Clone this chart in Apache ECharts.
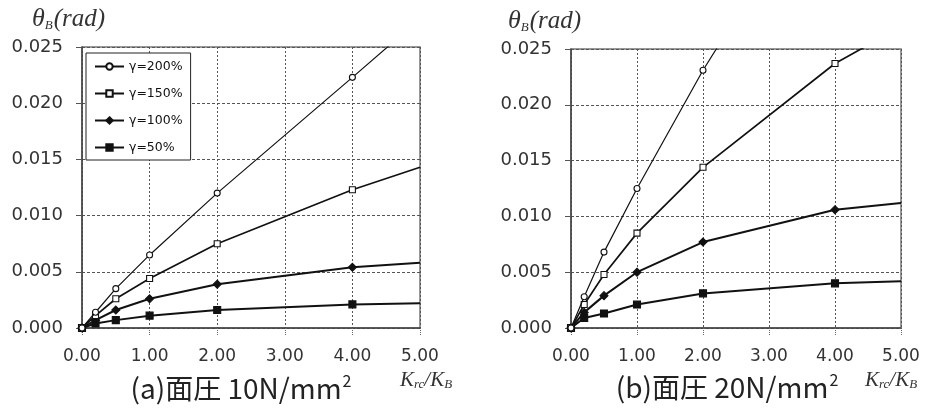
<!DOCTYPE html>
<html><head><meta charset="utf-8">
<script src="https://cdn.jsdelivr.net/npm/echarts@6/dist/echarts.min.js"></script>
<style>html,body{margin:0;padding:0;background:#fff}#c{width:934px;height:408px}</style>
</head><body><div id="c"></div>
<script>
// shared Krc/KB sample points
const kx = [0, 0.2, 0.5, 1, 2, 4, 5];
const xTicks = [0, 1, 2, 3, 4, 5];
const yTicks = [0, 0.005, 0.010, 0.015, 0.020, 0.025];
const names = ['γ=200%', 'γ=150%', 'γ=100%', 'γ=50%'];
// (a) 10N/mm2
const a200 = [0, 0.0014, 0.0035, 0.0065, 0.0120, 0.0223, 0.0275];
const a150 = [0, 0.0011, 0.0026, 0.0044, 0.0075, 0.0123, 0.0143];
const a100 = [0, 0.0007, 0.0016, 0.0026, 0.0039, 0.0054, 0.0058];
const a50  = [0, 0.0004, 0.0007, 0.0011, 0.0016, 0.0021, 0.0022];
// (b) 20N/mm2
const b200 = [0, 0.0028, 0.0068, 0.0125, 0.0231, 0.0420, 0.0500];
const b150 = [0, 0.0021, 0.0048, 0.0085, 0.0144, 0.0237, 0.0270];
const b100 = [0, 0.0014, 0.0029, 0.0050, 0.0077, 0.0106, 0.0112];
const b50  = [0, 0.0009, 0.0013, 0.0021, 0.0031, 0.0040, 0.0042];

const styles = [
  {symbol: 'circle', symbolSize: 6, color: '#fff', width: 1.2},
  {symbol: 'rect', symbolSize: 6, color: '#fff', width: 1.7},
  {symbol: 'diamond', symbolSize: 8, color: '#111', width: 2},
  {symbol: 'rect', symbolSize: 7, color: '#111', width: 2}
];

function mkData(ys) {
  return kx.map((x, i) => i === kx.length - 1 ? {value: [x, ys[i]], symbol: 'none'} : [x, ys[i]]);
}
function mkSeries(ys, idx, k) {
  const s = styles[k];
  return {
    name: names[k], type: 'line', xAxisIndex: idx, yAxisIndex: idx,
    data: mkData(ys), smooth: false, clip: true,
    symbol: s.symbol, symbolSize: s.symbolSize, showAllSymbol: true,
    lineStyle: {color: '#111', width: s.width},
    itemStyle: {color: s.color, borderColor: '#111', borderWidth: 1.1},
    emphasis: {disabled: true}, animation: false, z: 5 - k
  };
}
function xAx(g) {
  return {
    type: 'value', gridIndex: g, min: xTicks[0], max: xTicks[xTicks.length - 1], interval: 1,
    axisLine: {show: true, lineStyle: {color: '#444', width: 1.5}},
    axisTick: {show: true, length: 7, inside: false, lineStyle: {color: '#666', type: 'dotted'}},
    splitLine: {show: true, lineStyle: {color: '#555', type: [2, 2], width: 1}},
    axisLabel: {formatter: v => v.toFixed(2), fontSize: 17, color: '#333', margin: 20, fontFamily: 'DejaVu Sans'}
  };
}
function yAx(g) {
  return {
    type: 'value', gridIndex: g, min: yTicks[0], max: yTicks[yTicks.length - 1], interval: 0.005,
    axisLine: {show: true, lineStyle: {color: '#444', width: 1.5}},
    axisTick: {show: true, length: 6, inside: false, lineStyle: {color: '#555'}},
    splitLine: {show: true, lineStyle: {color: '#555', type: [3, 2], width: 1}},
    axisLabel: {formatter: v => v.toFixed(3), fontSize: 18, color: '#333', margin: 19, fontFamily: 'DejaVu Sans'}
  };
}
const serif = 'Liberation Serif';
function yName(x, y) {
  return {type: 'text', left: x, top: y, silent: true, style: {
    text: '{t|θ}{s|B}{r|(rad)}', rich: {
      t: {fontFamily: serif, fontStyle: 'italic', fontSize: 26, fill: '#333'},
      s: {fontFamily: serif, fontStyle: 'italic', fontSize: 13, fill: '#333', verticalAlign: 'bottom', padding: [10, 1, 0, 0]},
      r: {fontFamily: serif, fontStyle: 'italic', fontSize: 25, fill: '#333'}
    }}};
}
function xName(x, y) {
  return {type: 'text', left: x, top: y, silent: true, style: {
    text: '{k|K}{s|rc}{k|/K}{s|B}', rich: {
      k: {fontFamily: serif, fontStyle: 'italic', fontSize: 21, fill: '#333'},
      s: {fontFamily: serif, fontStyle: 'italic', fontSize: 13, fill: '#333', verticalAlign: 'bottom', padding: [8, 0, 0, 0]}
    }}};
}
function caption(txt, cx, y) {
  return {type: 'text', x: cx, y: y, silent: true, style: {
    text: '{m|' + txt + '}{s|2}', align: 'center', verticalAlign: 'middle', rich: {
      m: {fontFamily: 'Noto Sans CJK JP', fontSize: 28, fill: '#222'},
      s: {fontFamily: 'Noto Sans CJK JP', fontSize: 16, fill: '#222', verticalAlign: 'top', padding: [0, 0, 14, 1]}
    }}};
}

const chart = echarts.init(document.getElementById('c'), null, {renderer: 'canvas'});
chart.setOption({
  backgroundColor: '#fff',
  animation: false,
  grid: [
    {left: 82, right: 514, top: 47, bottom: 80, show: true, borderColor: '#777', borderWidth: 1.5, containLabel: false},
    {left: 571, right: 33, top: 49, bottom: 80, show: true, borderColor: '#777', borderWidth: 1.5, containLabel: false}
  ],
  xAxis: [xAx(0), xAx(1)],
  yAxis: [yAx(0), yAx(1)],
  legend: {
    data: names, orient: 'vertical', left: 86, top: 53, itemWidth: 29, itemHeight: 8, itemGap: 14,
    padding: [7, 8, 6, 8], backgroundColor: '#fff', borderColor: '#222', borderWidth: 1,
    textStyle: {fontSize: 12.5, color: '#111', fontFamily: 'DejaVu Sans'}, selectedMode: false, z: 10
  },
  series: [
    mkSeries(a200, 0, 0), mkSeries(a150, 0, 1), mkSeries(a100, 0, 2), mkSeries(a50, 0, 3),
    mkSeries(b200, 1, 0), mkSeries(b150, 1, 1), mkSeries(b100, 1, 2), mkSeries(b50, 1, 3)
  ],
  graphic: [
    yName(32, 6), yName(508, 8),
    xName(400, 370), xName(865, 370),
    caption('(a)面圧 10N/mm', 241, 388),
    caption('(b)面圧 20N/mm', 727, 387)
  ]
});
</script></body></html>
